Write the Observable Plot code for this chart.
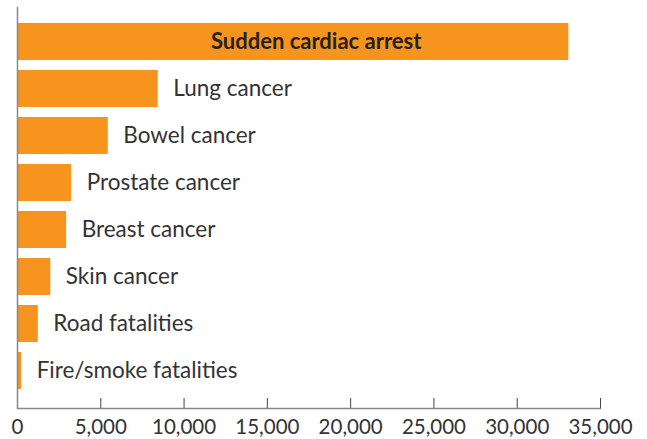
<!DOCTYPE html>
<html>
<head>
<meta charset="utf-8">
<script src="https://cdn.jsdelivr.net/npm/d3@7"></script>
<script src="https://cdn.jsdelivr.net/npm/@observablehq/plot@0.6"></script>
<style>
  html, body { margin: 0; padding: 0; background: #fff; }
  svg { display: block; }
</style>
</head>
<body>
<div id="chart"></div>
<script>
const categories = ["Sudden cardiac arrest", "Lung cancer", "Bowel cancer", "Prostate cancer", "Breast cancer", "Skin cancer", "Road fatalities", "Fire/smoke fatalities"];
const deaths = [33100, 8450, 5450, 3250, 2950, 2000, 1250, 250];
const xTicks = [0, 5000, 10000, 15000, 20000, 25000, 30000, 35000];

const data = categories.map((c, i) => ({category: c, value: deaths[i], first: i === 0}));
const font = "Lato, 'Open Sans', sans-serif";

const plot = Plot.plot({
  width: 647,
  height: 439,
  marginLeft: 17,
  marginRight: 47,
  marginTop: 7,
  marginBottom: 31,
  style: {fontFamily: font, background: "#fff"},
  x: {domain: [0, 35000], ticks: xTicks, label: null},
  y: {domain: categories, paddingInner: 0.2128, paddingOuter: 0.372, align: 0.457, axis: null},
  marks: [
    Plot.barX(data, {x: "value", y: "category", fill: "#F7941D"}),
    Plot.text(data.filter(d => !d.first), {x: "value", y: "category", text: "category", textAnchor: "start", dx: 15, fontSize: 22.5, fill: "#333"}),
    Plot.text(data.filter(d => d.first), {x: d => d.value / 2, y: "category", text: "category", textAnchor: "middle", dx: 23, fontSize: 22, fontWeight: "bold", fill: "#222"}),
    Plot.gridX(xTicks, {stroke: "#444", strokeOpacity: 1, strokeWidth: 1, insetTop: 391}),
    Plot.axisX(xTicks, {tickSize: 0, tickPadding: 11, tickFormat: d3.format(","), fontSize: 20.5, fill: "#333", label: null}),
    Plot.ruleX([0], {stroke: "#888", strokeWidth: 1.5}),
    Plot.frame({anchor: "bottom", stroke: "#888", strokeWidth: 1.5})
  ]
});
document.getElementById("chart").appendChild(plot);
</script>
</body>
</html>
